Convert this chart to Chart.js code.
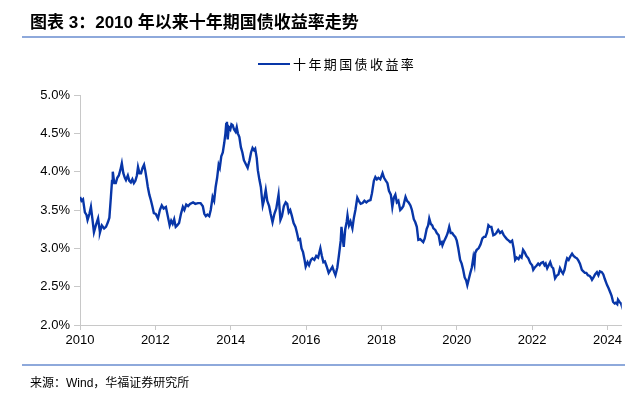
<!DOCTYPE html>
<html>
<head>
<meta charset="utf-8">
<script src="https://cdn.jsdelivr.net/npm/chart.js@4"></script>
<style>
    html, body { margin: 0; padding: 0; background: #fff; }
    #wrap { position: relative; width: 625px; height: 393px; overflow: hidden; }
    #grafico { position: absolute; left: 0; top: 0; }
    .titulo {
        position: absolute; left: 30px; top: 8px;
        font: bold 17px "Liberation Sans", "Noto Sans CJK SC", sans-serif;
        color: #000; white-space: nowrap;
    }
    .linha { position: absolute; left: 22px; right: 0; height: 2px; background: #8ea9db; }
    .legenda {
        position: absolute; left: 258px; top: 54px; white-space: nowrap;
        font: 13px "Noto Sans CJK SC", sans-serif; letter-spacing: 2.4px; color: #000;
    }
    .legenda span.amostra {
        display: inline-block; width: 32px; height: 2px; background: #0836a8;
        vertical-align: middle; margin-right: 3px; position: relative; top: -1px;
    }
    .fonte {
        position: absolute; left: 30px; top: 373px; white-space: nowrap;
        font: 12px "Liberation Sans", "Noto Sans CJK SC", sans-serif; color: #000;
    }
</style>
</head>
<body>
<div id="wrap">
    <canvas id="grafico" width="625" height="393"></canvas>
    <div class="titulo">图表 3：2010 年以来十年期国债收益率走势</div>
    <div class="linha" style="top: 36px;"></div>
    <div class="legenda" id="legenda"></div>
    <div class="linha" style="top: 364px;"></div>
    <div class="fonte">来源：Wind，华福证券研究所</div>
</div>
<script>
// Dados
const nomeSerie = '十年期国债收益率';

const datas = [
    2010.00, 2010.04, 2010.08, 2010.13, 2010.17, 2010.20, 2010.25, 2010.29, 2010.33, 2010.37,
    2010.42, 2010.48, 2010.51, 2010.53, 2010.58, 2010.64, 2010.69, 2010.74, 2010.78, 2010.82,
    2010.85, 2010.87, 2010.91, 2010.95, 2010.99, 2011.03, 2011.07, 2011.11, 2011.15, 2011.19,
    2011.22, 2011.27, 2011.31, 2011.35, 2011.39, 2011.43, 2011.47, 2011.51, 2011.54, 2011.58,
    2011.62, 2011.66, 2011.70, 2011.73, 2011.77, 2011.80, 2011.84, 2011.88, 2011.92, 2011.96,
    2012.01, 2012.04, 2012.07, 2012.12, 2012.17, 2012.22, 2012.28, 2012.33, 2012.38, 2012.42,
    2012.46, 2012.50, 2012.54, 2012.58, 2012.63, 2012.68, 2012.73, 2012.77, 2012.82, 2012.87,
    2012.92, 2013.00, 2013.06, 2013.13, 2013.20, 2013.26, 2013.30, 2013.34, 2013.38, 2013.43,
    2013.47, 2013.52, 2013.56, 2013.60, 2013.64, 2013.68, 2013.71, 2013.75, 2013.79, 2013.83,
    2013.86, 2013.88, 2013.90, 2013.92, 2013.95, 2013.99, 2014.02, 2014.05, 2014.09, 2014.13,
    2014.16, 2014.19, 2014.23, 2014.27, 2014.31, 2014.35, 2014.40, 2014.45, 2014.50, 2014.54,
    2014.58, 2014.62, 2014.65, 2014.69, 2014.72, 2014.76, 2014.80, 2014.83, 2014.85, 2014.88,
    2014.93, 2014.97, 2015.02, 2015.06, 2015.11, 2015.16, 2015.21, 2015.27, 2015.30, 2015.32,
    2015.36, 2015.41, 2015.46, 2015.50, 2015.54, 2015.58, 2015.62, 2015.67, 2015.72, 2015.76,
    2015.80, 2015.84, 2015.88, 2015.92, 2015.96, 2015.99, 2016.04, 2016.08, 2016.13, 2016.17,
    2016.22, 2016.27, 2016.32, 2016.38, 2016.42, 2016.46, 2016.50, 2016.55, 2016.60, 2016.65,
    2016.70, 2016.74, 2016.78, 2016.83, 2016.87, 2016.92, 2016.94, 2016.97, 2017.00, 2017.04,
    2017.08, 2017.10, 2017.14, 2017.18, 2017.23, 2017.27, 2017.31, 2017.36, 2017.40, 2017.45,
    2017.50, 2017.55, 2017.60, 2017.65, 2017.71, 2017.75, 2017.80, 2017.84, 2017.88, 2017.92,
    2017.97, 2018.03, 2018.07, 2018.12, 2018.16, 2018.20, 2018.25, 2018.29, 2018.33, 2018.37,
    2018.41, 2018.45, 2018.50, 2018.54, 2018.58, 2018.64, 2018.68, 2018.72, 2018.77, 2018.81,
    2018.86, 2018.90, 2018.94, 2018.98, 2019.03, 2019.07, 2019.11, 2019.15, 2019.20, 2019.24,
    2019.27, 2019.31, 2019.35, 2019.38, 2019.43, 2019.47, 2019.52, 2019.56, 2019.60, 2019.62,
    2019.67, 2019.72, 2019.76, 2019.80, 2019.84, 2019.88, 2019.92, 2019.96, 2020.00, 2020.04,
    2020.09, 2020.13, 2020.17, 2020.21, 2020.25, 2020.28, 2020.32, 2020.36, 2020.40, 2020.44,
    2020.47, 2020.49, 2020.53, 2020.58, 2020.63, 2020.68, 2020.72, 2020.76, 2020.80, 2020.84,
    2020.88, 2020.92, 2020.97, 2021.01, 2021.05, 2021.10, 2021.15, 2021.20, 2021.24, 2021.28,
    2021.33, 2021.38, 2021.42, 2021.47, 2021.51, 2021.55, 2021.59, 2021.64, 2021.68, 2021.72,
    2021.76, 2021.80, 2021.85, 2021.90, 2021.95, 2022.00, 2022.03, 2022.07, 2022.11, 2022.16,
    2022.20, 2022.24, 2022.29, 2022.33, 2022.36, 2022.40, 2022.44, 2022.48, 2022.52, 2022.56,
    2022.61, 2022.65, 2022.70, 2022.74, 2022.78, 2022.82, 2022.86, 2022.90, 2022.93, 2022.97,
    2023.02, 2023.06, 2023.10, 2023.15, 2023.19, 2023.23, 2023.27, 2023.32, 2023.36, 2023.40,
    2023.44, 2023.48, 2023.53, 2023.56, 2023.59, 2023.63, 2023.67, 2023.72, 2023.76, 2023.80,
    2023.85, 2023.89, 2023.93, 2023.96, 2023.99, 2024.03, 2024.07, 2024.11, 2024.15, 2024.19,
    2024.22, 2024.26, 2024.28, 2024.32, 2024.36, 2024.38
];

const rendimentos = [
    3.67, 3.62, 3.64, 3.47, 3.44, 3.37, 3.45, 3.54, 3.38, 3.21,
    3.30, 3.39, 3.28, 3.21, 3.30, 3.26, 3.28, 3.34, 3.40, 3.67,
    3.88, 4.00, 3.85, 3.85, 3.92, 3.95, 4.02, 4.11, 3.98, 3.92,
    3.89, 3.95, 3.88, 3.86, 3.90, 3.85, 3.88, 3.95, 4.06, 3.98,
    3.98, 4.05, 4.09, 4.02, 3.90, 3.80, 3.70, 3.63, 3.55, 3.46,
    3.45, 3.42, 3.39, 3.50, 3.56, 3.52, 3.54, 3.42, 3.30, 3.36,
    3.32, 3.38, 3.28, 3.30, 3.33, 3.45, 3.54, 3.50, 3.57, 3.55,
    3.58, 3.60, 3.58, 3.59, 3.59, 3.55, 3.45, 3.42, 3.44, 3.42,
    3.50, 3.67, 3.62, 3.80, 3.92, 4.09, 4.05, 4.20, 4.25, 4.38,
    4.50, 4.62, 4.65, 4.42, 4.58, 4.55, 4.62, 4.61, 4.55, 4.52,
    4.58, 4.50, 4.45, 4.32, 4.25, 4.15, 4.10, 4.05, 4.15, 4.25,
    4.31, 4.28, 4.30, 4.18, 4.02, 3.90, 3.80, 3.65, 3.56, 3.62,
    3.76, 3.62, 3.55, 3.45, 3.34, 3.45, 3.52, 3.70, 3.50, 3.37,
    3.42, 3.55, 3.60, 3.58, 3.47, 3.50, 3.43, 3.33, 3.28, 3.20,
    3.11, 3.12, 3.00, 2.95, 2.85, 2.76, 2.82, 2.78, 2.85, 2.87,
    2.85, 2.90, 2.88, 3.00, 2.90, 2.82, 2.83, 2.76, 2.68, 2.72,
    2.76, 2.70, 2.65, 2.75, 2.90, 3.10, 3.28, 3.15, 3.02, 3.25,
    3.35, 3.43, 3.30, 3.35, 3.26, 3.40, 3.50, 3.66, 3.62, 3.58,
    3.59, 3.62, 3.60, 3.62, 3.63, 3.72, 3.88, 3.93, 3.90, 3.92,
    3.90, 3.98, 3.92, 3.88, 3.85, 3.75, 3.70, 3.54, 3.66, 3.70,
    3.60, 3.62, 3.50, 3.52, 3.55, 3.67, 3.62, 3.60, 3.56, 3.50,
    3.38, 3.34, 3.28, 3.11, 3.12, 3.10, 3.08, 3.13, 3.25, 3.30,
    3.39, 3.32, 3.30, 3.26, 3.24, 3.20, 3.17, 3.06, 3.08, 3.04,
    3.10, 3.15, 3.20, 3.28, 3.20, 3.20, 3.17, 3.15, 3.10, 3.00,
    2.85, 2.80, 2.72, 2.62, 2.58, 2.52, 2.60, 2.68, 2.75, 2.88,
    2.80, 2.94, 2.98, 3.00, 3.05, 3.13, 3.15, 3.15, 3.20, 3.30,
    3.28, 3.28, 3.17, 3.18, 3.20, 3.24, 3.20, 3.22, 3.18, 3.15,
    3.12, 3.10, 3.08, 3.10, 3.00, 2.85, 2.88, 2.86, 2.90, 2.88,
    2.98, 2.95, 2.90, 2.87, 2.81, 2.78, 2.72, 2.75, 2.77, 2.80,
    2.78, 2.81, 2.82, 2.78, 2.80, 2.74, 2.78, 2.82, 2.76, 2.74,
    2.61, 2.64, 2.66, 2.74, 2.70, 2.67, 2.72, 2.82, 2.87, 2.85,
    2.90, 2.93, 2.90, 2.88, 2.87, 2.84, 2.80, 2.72, 2.70, 2.68,
    2.68, 2.65, 2.64, 2.62, 2.59, 2.62, 2.66, 2.69, 2.65, 2.70,
    2.69, 2.66, 2.60, 2.56, 2.52, 2.48, 2.43, 2.38, 2.30, 2.28,
    2.29, 2.27, 2.33, 2.30, 2.28, 2.25
];

const anosEixo = [2010, 2012, 2014, 2016, 2018, 2020, 2022, 2024];
const ticksY = [2.0, 2.5, 3.0, 3.5, 4.0, 4.5, 5.0];

const corLinha = '#0836a8';
const corEixo = '#c8c8c8';

document.getElementById('legenda').innerHTML =
    '<span class="amostra"></span>' + nomeSerie;

const pontos = datas.map((d, i) => ({ x: d, y: rendimentos[i] }));

new Chart(document.getElementById('grafico').getContext('2d'), {
    type: 'line',
    data: {
        datasets: [{
            label: nomeSerie,
            data: pontos,
            borderColor: corLinha,
            borderWidth: 2.4,
            pointRadius: 0,
            tension: 0,
            fill: false
        }]
    },
    options: {
        responsive: false,
        animation: false,
        devicePixelRatio: 1,
        layout: { padding: { top: 95, right: 3, bottom: 0, left: 0 } },
        plugins: {
            legend: { display: false },
            tooltip: { enabled: false }
        },
        scales: {
            x: {
                type: 'linear',
                min: datas[0],
                max: datas[datas.length - 1],
                afterBuildTicks: (scale) => {
                    scale.ticks = anosEixo.map(v => ({ value: v }));
                },
                afterFit: (scale) => { scale.height = 68; },
                ticks: {
                    autoSkip: false,
                    maxRotation: 0,
                    padding: 3,
                    color: '#000',
                    font: { family: 'Liberation Sans', size: 13 },
                    callback: (v) => String(v)
                },
                grid: { drawOnChartArea: false, tickLength: 5, color: corEixo },
                border: { color: corEixo }
            },
            y: {
                min: 2,
                max: 5,
                afterBuildTicks: (scale) => {
                    scale.ticks = ticksY.map(v => ({ value: v }));
                },
                afterFit: (scale) => { scale.width = 80; },
                ticks: {
                    padding: 4,
                    color: '#000',
                    font: { family: 'Liberation Sans', size: 13 },
                    callback: (v) => v.toFixed(1) + '%'
                },
                grid: { drawOnChartArea: false, tickLength: 6, color: corEixo },
                border: { color: corEixo }
            }
        }
    }
});
</script>
</body>
</html>
